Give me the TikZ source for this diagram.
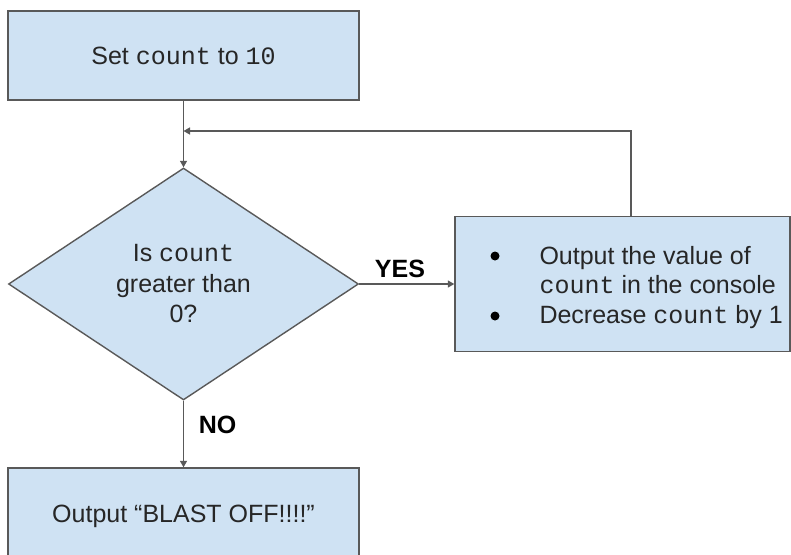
\documentclass[tikz,border=0pt]{standalone}
\usepackage{fontspec}
\setmainfont{Liberation Sans}
\newfontfamily\codefont{Liberation Mono}
\usetikzlibrary{arrows.meta,shapes.geometric}
\newcommand\code[1]{{\codefont #1}}

\definecolor{boxfill}{HTML}{CFE2F3}
\definecolor{edgegray}{HTML}{595959}
\definecolor{ink}{HTML}{262626}

\begin{document}
\begin{tikzpicture}[x=1pt,y=-1pt,
  font=\fontsize{25}{30.5}\selectfont, text=ink,
  stepbox/.style={draw=edgegray, fill=boxfill, line width=1.4pt, rectangle, inner sep=0pt},
  decision/.style={draw=edgegray, fill=boxfill, line width=1.4pt, diamond, inner sep=0pt,
                   align=center},
  flow/.style={draw=edgegray, line width=1.3pt, -{Triangle[length=6.5pt,width=7pt]}},
  tag/.style={font=\fontsize{25}{30}\selectfont\bfseries, text=black, anchor=base},
  itemline/.style={anchor=base west},
  dot/.style={circle, fill=black, inner sep=0pt, minimum size=9pt}
]
\clip (0,0) rectangle (791,554);

% boxes
\node[stepbox, minimum width=351pt, minimum height=89pt] (start) at (183.5,55.5)
  {Set \code{count} to \code{10}};
\node[decision, minimum width=350pt, minimum height=232pt] (test) at (183.5,284)
  {Is \code{count}\\greater than\\0?};
\node[stepbox, minimum width=335pt, minimum height=135pt] (act) at (622.5,284) {};
\node[stepbox, minimum width=351pt, minimum height=96pt] (stop) at (183.5,516)
  {Output “BLAST OFF!!!!”};

% bulleted list inside the action box
\node[dot] (b1) at (495,256) {};
\node[dot] (b2) at (495,316) {};
\node[itemline] (l1) at (536,264) {Output the value of};
\node[itemline] (l2) at (536,293.5) {\code{count} in the console};
\node[itemline] (l3) at (536,323) {Decrease \code{count} by 1};

% connectors
\coordinate (merge) at (183.5,131);
\draw[flow] (start.south) -- (test.north);
\draw[flow] ([xshift=8.5pt]act.north) |- (merge);
\draw[flow] (test.east) -- (act.west);
\draw[flow] (test.south) -- (stop.north);

% branch labels
\node[tag] (yes) at (400,277) {YES};
\node[tag] (no) at (217.5,433) {NO};
\end{tikzpicture}
\end{document}
